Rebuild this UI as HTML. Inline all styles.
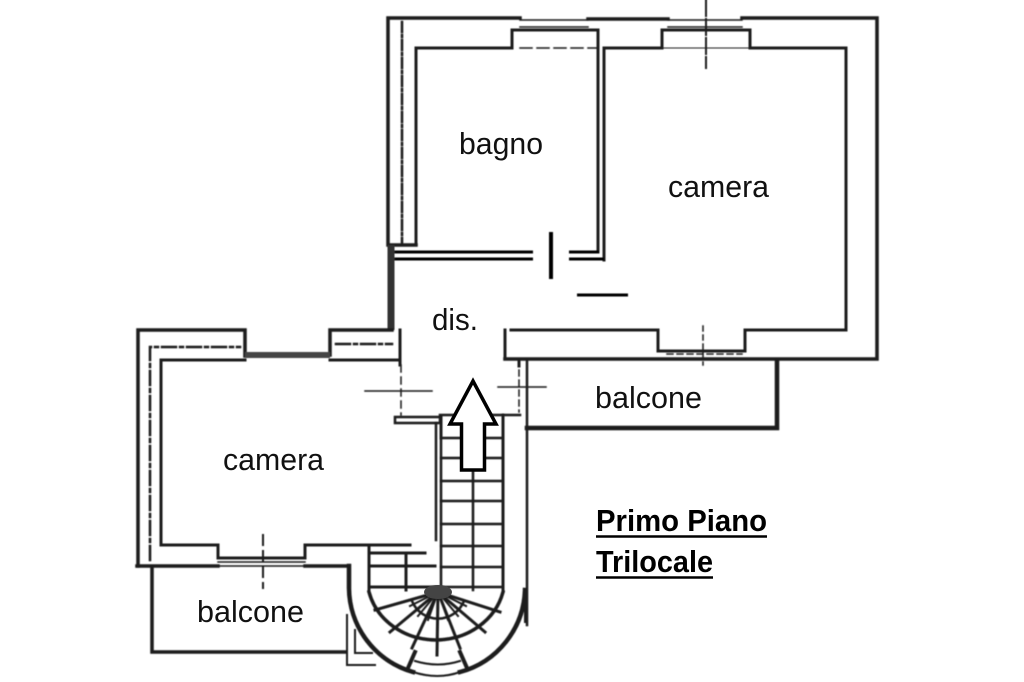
<!DOCTYPE html>
<html><head><meta charset="utf-8"><style>
html,body{margin:0;padding:0;background:#fff;width:1024px;height:682px;overflow:hidden}
svg{display:block}
text{font-family:"Liberation Sans",sans-serif;font-size:31px;fill:#111}
</style></head><body>
<svg width="1024" height="682" viewBox="0 0 1024 682" xmlns="http://www.w3.org/2000/svg">
<defs><filter id="b" x="-2%" y="-2%" width="104%" height="104%"><feGaussianBlur stdDeviation="0.4"/></filter></defs>
<rect width="1024" height="682" fill="#fff"/>
<g fill="none" stroke="#1c1c1c" stroke-width="3" stroke-linecap="square" filter="url(#b)">
<!-- upper block outer -->
<path stroke-width="3.500" d="M388 245V18H520M588 19H668M742 18H877V359H667M505 359H665"/>
<path stroke-width="1.500" d="M520 20H588M520 27H588M668 20H742M668 27H742"/>
<!-- bagno -->
<path d="M416 245V48H512V30H598V252"/>
<path d="M389 245H416" stroke-width="3.500"/>
<path d="M604 260V48H662V30H750V48H846V330H745V351H658V330H511"/>
<path stroke-width="1.500" stroke-dasharray="12 5" d="M520 48H598"/>
<path stroke-width="1" d="M662 48H750"/>
<path stroke-width="2.500" stroke-dasharray="10 3 2 3" d="M402 22V245"/>
<!-- doubles -->
<path stroke-width="3" stroke="#000" stroke-linecap="butt" d="M393 252H533M393 259H533M569 252H599M569 259H604"/>
<path stroke-width="4" stroke="#000" stroke-linecap="butt" d="M551 232V279"/>
<path stroke-width="3" stroke="#000" stroke-linecap="butt" d="M577 295H628"/>
<!-- dis left wall -->
<path stroke-width="7" stroke="#333" stroke-linecap="butt" d="M391 245V330"/>
<path d="M400 330V365"/>
<path stroke-width="1.500" stroke-dasharray="7 5" d="M401 365V415"/>
<path stroke-width="1.500" d="M365 391H432"/>
<!-- balcony top -->
<path d="M505 330V359H519V366"/>
<path stroke-width="1.500" stroke-dasharray="6 4" d="M519 370V412M667 354H742"/>
<path stroke-width="1.500" d="M498 387H546"/>
<path stroke-width="1.500" stroke-dasharray="5 4" d="M703 326V365"/>
<path stroke-width="2" stroke-dasharray="16 3" d="M706 0V68"/>
<path stroke-width="2.500" d="M527 361V625"/>
<path d="M527 428H777V360" stroke-width="4.500"/>
<!-- left block -->
<path stroke-width="3.500" d="M138 566V330H245V356M330 355V330H392"/>
<path stroke-width="6" stroke="#444" stroke-linecap="butt" d="M245 355H330"/>
<path d="M161 360V545H218V558H305V545H408M161 360H245M330 360H400"/>
<path stroke-width="2.500" stroke-dasharray="14 4 3 4" d="M150 560V347H240M336 344H392"/>
<path stroke-width="3.500" d="M137 566H218M305 566H348"/>
<path stroke-width="1.500" d="M218 562H305M218 566H305"/>
<path stroke-width="2" stroke-dasharray="10 6" d="M263 535V588"/>
<!-- west balcony -->
<path stroke-width="3.500" d="M152 568V652H346"/>
<path stroke-width="2" d="M347 615V665H375M355 630V653H372"/>
<!-- stair landing -->
<path d="M395 417H440V423H395Z M440 415H520" stroke-width="2.500"/>
<path stroke-width="2.500" d="M436 423V540"/>
<path stroke-width="3" d="M441 416V438M503 415V592"/>
<path stroke-width="2.500" d="M441 438H503M441 458H503M441 481H503M441 501H503M441 524H503M441 546H503M441 567H503M441 587H503"/>
<path stroke-width="2.500" d="M473 470V590M441 438V590"/>
<path stroke-width="3" d="M368 545H410M369 553H425M369 566H435M369 587H440M406 553V590M369 545V592"/>
<!-- spiral -->
<path stroke-width="3.500" d="M369 592A69 63 0 0 0 503 592"/>
<path stroke-width="2.500" d="M412 601A28 28 0 0 0 464 601"/>
<path stroke-width="3" d="M438 592L375 610M438 592L390 632M438 592L412 648M438 592L437 655M438 592L460 648M438 592L485 632M438 592L500 612"/>
<path stroke-width="2" d="M438 592L418 616M438 592L428 620M438 592L448 620M438 592L458 616M438 592L410 606M438 592L466 606"/>
<path stroke-width="4.500" d="M349 566V588A88 88 0 0 0 413 672M460 672A88 88 0 0 0 525 590"/>
<path stroke-width="4" d="M415 652L408 668M460 652L467 668"/>
<path stroke-width="2" d="M525 590V622M415 661Q438 668 460 661M413 672Q438 680 460 672"/>
</g>
<ellipse cx="438" cy="592" rx="14" ry="7" fill="#444"/>
<path d="M473 381L496 424H484.500V470H461.500V424H450Z" fill="#fff" stroke="#000" stroke-width="3.500" stroke-linejoin="miter"/>
<text x="459" y="154" textLength="84" lengthAdjust="spacingAndGlyphs">bagno</text>
<text x="668" y="197" textLength="101" lengthAdjust="spacingAndGlyphs">camera</text>
<text x="432" y="330" textLength="46" lengthAdjust="spacingAndGlyphs">dis.</text>
<text x="595" y="408" textLength="107" lengthAdjust="spacingAndGlyphs">balcone</text>
<text x="223" y="470" textLength="101" lengthAdjust="spacingAndGlyphs">camera</text>
<text x="197" y="622" textLength="107" lengthAdjust="spacingAndGlyphs">balcone</text>
<text x="596" y="531" textLength="171" lengthAdjust="spacingAndGlyphs" style="font-weight:bold;fill:#000">Primo Piano</text>
<text x="596" y="572" textLength="117" lengthAdjust="spacingAndGlyphs" style="font-weight:bold;fill:#000">Trilocale</text>
<path d="M596 536.500H767M596 577.500H713" stroke="#000" stroke-width="2.500" fill="none"/>
</svg>
</body></html>
